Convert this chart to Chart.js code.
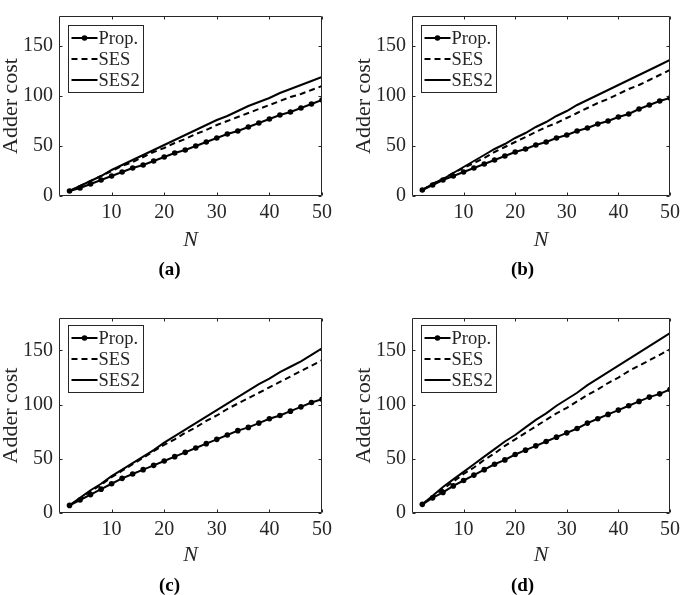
<!DOCTYPE html>
<html><head><meta charset="utf-8">
<script src="https://cdn.jsdelivr.net/npm/chart.js@4.4.1/dist/chart.umd.min.js"></script>
<style>
html,body{margin:0;padding:0;background:#fff;}
body{width:685px;height:595px;position:relative;overflow:hidden;}
canvas{position:absolute;display:block;}
</style></head><body>
<canvas id="ca" width="342" height="297" style="left:0;top:-2px"></canvas>
<canvas id="cb" width="332" height="297" style="left:353px;top:-2px"></canvas>
<canvas id="cc" width="342" height="298" style="left:0;top:297px"></canvas>
<canvas id="cd" width="332" height="298" style="left:353px;top:297px"></canvas>
<script>
// ---- data ----
const N = [2,4,6,8,10,12,14,16,18,20,22,24,26,28,30,32,34,36,38,40,42,44,46,48,50];
const xTicks = [10,20,30,40,50];
const yTicks = [0,50,100,150];
const seriesNames = ['Prop.','SES','SES2'];
const panelLabels = ['(a)','(b)','(c)','(d)'];

const propA = [5,8,12,16,20,24,28,31,35,39,43,46,50,54,58,62,65,69,73,77,81,84,88,92,96];
const sesA  = [5,10,15,20,25,30,34,39,44,48,53,57,62,66,71,75,79,83,87,91,95,99,102,106,110];
const ses2A = [5,10,15,20,26,31,36,41,46,51,56,61,66,71,76,80,85,90,94,98,103,107,111,115,119];

const propB = [6,11,16,20,24,28,32,36,40,44,47,51,54,58,61,65,68,72,75,79,82,87,91,95,98];
const sesB  = [6,12,17,23,28,33,38,44,49,54,59,64,69,73,78,83,88,93,97,102,107,111,116,121,126];
const ses2B = [6,12,17,23,29,35,41,47,52,58,63,69,74,80,85,91,96,101,106,111,116,121,126,131,136];

const propC = [7,12,17,22,27,32,36,40,44,48,52,56,60,64,68,72,76,79,83,87,90,94,98,102,105];
const sesC  = [7,13,20,26,33,39,45,51,57,63,68,74,79,85,90,96,101,106,111,116,121,126,131,136,141];
const ses2C = [7,14,21,27,34,40,46,52,58,65,71,77,83,89,95,101,107,113,119,124,130,135,140,146,152];

const propD = [8,14,19,25,30,35,40,45,49,54,58,62,66,70,74,78,83,87,91,95,99,103,107,110,114];
const sesD  = [8,15,22,29,36,42,49,55,62,68,74,80,86,92,97,103,109,114,120,125,131,136,141,146,151];
const ses2D = [8,16,24,31,38,45,52,59,66,72,79,86,92,99,105,111,118,124,130,136,142,148,154,160,166];

// ---- style ----
const FONT = "'Liberation Serif', 'Times New Roman', serif";
const TXT = '#262626';
const AX = '#262626';
const LINE = '#000000';

const framePlugin = {
  id: 'frame',
  afterDraw(chart) {
    const {ctx, chartArea: a, scales: {x, y}} = chart;
    const L = Math.round(a.left) + 0.5, R = Math.round(a.right) - 0.5;
    const T = Math.round(a.top) + 0.5, B = Math.round(a.bottom) - 0.5;
    ctx.save();
    ctx.strokeStyle = AX; ctx.lineWidth = 1;
    ctx.beginPath();
    ctx.rect(L, T, R - L, B - T);
    const tl = 3;
    xTicks.forEach(v => {
      const px = Math.round(x.getPixelForValue(v)) + 0.5;
      ctx.moveTo(px, B); ctx.lineTo(px, B - tl);
      ctx.moveTo(px, T); ctx.lineTo(px, T + tl);
    });
    yTicks.forEach(v => {
      const py = Math.round(y.getPixelForValue(v)) + 0.5;
      ctx.moveTo(L, py); ctx.lineTo(L + tl, py);
      ctx.moveTo(R, py); ctx.lineTo(R - tl, py);
    });
    ctx.stroke();

    // legend
    const cap = chart.options.plugins.caption;
    const bx = Math.round(a.left) + 9.5, by = Math.round(a.top) + cap.legTop + 0.5, bw = 75, bh = 67;
    ctx.fillStyle = '#fff';
    ctx.fillRect(bx, by, bw, bh);
    ctx.strokeStyle = AX; ctx.lineWidth = 1;
    ctx.strokeRect(bx, by, bw, bh);
    const rows = [12.5, 33.5, 54.5];
    chart.data.datasets.forEach((ds, i) => {
      const yy = by + rows[i];
      ctx.save();
      ctx.strokeStyle = LINE; ctx.lineWidth = ds.borderWidth;
      ctx.setLineDash(ds.borderDash || []);
      ctx.beginPath(); ctx.moveTo(bx + 3, yy); ctx.lineTo(bx + 29, yy); ctx.stroke();
      ctx.restore();
      if (ds.pointRadius > 0) {
        ctx.fillStyle = LINE;
        ctx.beginPath(); ctx.arc(bx + 16, yy, ds.pointRadius, 0, Math.PI * 2); ctx.fill();
      }
      ctx.fillStyle = TXT;
      ctx.font = '18.5px ' + FONT;
      ctx.textAlign = 'left'; ctx.textBaseline = 'middle';
      ctx.fillText(ds.label, bx + 30, yy + 1);
    });

    // caption
    ctx.fillStyle = '#000';
    ctx.font = 'bold 19px ' + FONT;
    ctx.textAlign = 'center'; ctx.textBaseline = 'middle';
    ctx.fillText(cap.text, a.left + 110.5, a.bottom + cap.dy);
    ctx.restore();
  }
};

function makePanel(id, label, prop, ses, ses2, geo) {
  const pts = arr => arr.map((v, i) => ({x: N[i], y: v}));
  return new Chart(document.getElementById(id), {
    type: 'line',
    data: {
      datasets: [
        {label: seriesNames[0], data: pts(prop), borderColor: LINE, backgroundColor: LINE, borderWidth: 2,
         pointRadius: 2.8, pointBackgroundColor: LINE, pointBorderColor: LINE, pointBorderWidth: 0, tension: 0},
        {label: seriesNames[1], data: pts(ses), borderColor: LINE, borderWidth: 2, borderDash: [6, 4],
         pointRadius: 0, tension: 0},
        {label: seriesNames[2], data: pts(ses2), borderColor: LINE, borderWidth: 2,
         pointRadius: 0, tension: 0}
      ]
    },
    options: {
      responsive: false,
      animation: false,
      events: [],
      layout: {padding: {left: 0, top: geo.top, right: geo.right, bottom: 0}},
      plugins: {
        legend: {display: false},
        tooltip: {enabled: false},
        caption: {text: label, dy: geo.capDy, legTop: geo.legTop}
      },
      scales: {
        x: {
          type: 'linear', min: 0, max: 50,
          grid: {display: false, drawTicks: false},
          border: {display: false},
          afterBuildTicks: s => { s.ticks = xTicks.map(v => ({value: v})); },
          afterFit: s => { s.height = geo.xh; },
          ticks: {padding: 5, color: TXT, font: {family: FONT, size: 20}, maxRotation: 0, autoSkip: false},
          title: {display: true, text: 'N', color: TXT,
                  font: {family: FONT, size: 22, style: 'italic'}, padding: {top: 0, bottom: geo.nPad}}
        },
        y: {
          type: 'linear', min: 0, max: 180,
          grid: {display: false, drawTicks: false},
          border: {display: false},
          afterBuildTicks: s => { s.ticks = yTicks.map(v => ({value: v})); },
          afterFit: s => { s.width = 59; },
          ticks: {padding: 6, color: TXT, font: {family: FONT, size: 20}, autoSkip: false},
          title: {display: true, text: 'Adder cost', color: TXT,
                  font: {family: FONT, size: 22, lineHeight: 1}, padding: 0}
        }
      }
    },
    plugins: [framePlugin]
  });
}

// geometry (page coords): top panels chart area y -1..196, bottom panels 318..513
// top canvases are placed at page y = -2
const geoTop  = {top: 1, right: 20, xh: 297 - 198, nPad: 297 - 13.2 - 242, capDy: 74, legTop: 9};
const geoTopR = {top: 1, right: 10, xh: 297 - 198, nPad: 297 - 13.2 - 242, capDy: 74, legTop: 9};
const geoBot  = {top: 21, right: 20, xh: 298 - 216, nPad: 298 - 13.2 - 258, capDy: 73, legTop: 7};
const geoBotR = {top: 21, right: 10, xh: 298 - 216, nPad: 298 - 13.2 - 258, capDy: 73, legTop: 7};

makePanel('ca', panelLabels[0], propA, sesA, ses2A, geoTop);
makePanel('cb', panelLabels[1], propB, sesB, ses2B, geoTopR);
makePanel('cc', panelLabels[2], propC, sesC, ses2C, geoBot);
makePanel('cd', panelLabels[3], propD, sesD, ses2D, geoBotR);
</script>
</body></html>
